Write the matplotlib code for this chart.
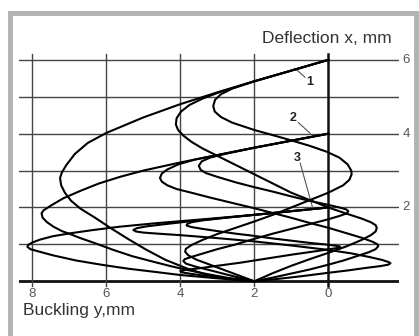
import matplotlib.pyplot as plt
from matplotlib.patches import Rectangle

# curve points: buckling y (horizontal), deflection x (vertical)
# curve family 1 starts at x = 6 mm
C1A_Y = [0, 1, 2, 3, 4, 5, 6, 6.5, 6.85, 7.08, 7.2, 7.25, 7.22, 7.12, 6.95, 6.7, 6.3,
         5.88, 5.4, 4.91, 4.4, 3.83, 3.3, 2.7, 2.0]
C1A_X = [6, 5.71, 5.42, 5.12, 4.8, 4.44, 4.02, 3.75, 3.45, 3.15, 2.95, 2.8, 2.6, 2.4, 2.18,
         1.97, 1.72, 1.44, 1.14, 0.85, 0.58, 0.35, 0.18, 0.07, 0]
C1B_Y = [0, 1, 2, 2.9, 3.4, 3.75, 3.98, 4.1, 4.12, 4.06, 3.92, 3.7, 3.4, 3.0, 2.5, 2.0,
         1.5, 1.0, 0.5, 0, -0.5, -0.9, -1.15, -1.28, -1.31, -1.28, -1.15, -0.9, -0.5, 0,
         0.5, 1.0, 1.5, 2.0]
C1B_X = [6, 5.71, 5.42, 5.14, 4.95, 4.78, 4.6, 4.42, 4.25, 4.1, 3.95, 3.78, 3.6, 3.4, 3.15,
         2.9, 2.65, 2.4, 2.2, 2.0, 1.83, 1.7, 1.6, 1.52, 1.45, 1.35, 1.25, 1.12, 0.95, 0.77,
         0.6, 0.42, 0.22, 0]
C1C_Y = [0, 1, 2, 2.6, 2.9, 3.06, 3.11, 3.07, 2.9, 2.6, 2.0, 1.5, 1.04, 0.5, 0.04, -0.3,
         -0.52, -0.62, -0.63, -0.57, -0.4, 0, 0.5, 1.0, 1.5, 2.0, 2.5, 3.0, 3.4, 3.7, 3.85,
         3.87, 3.78, 3.55, 3.2, 2.8, 2.4, 2.0]
C1C_X = [6, 5.71, 5.42, 5.22, 5.07, 4.92, 4.75, 4.6, 4.45, 4.3, 4.1, 3.96, 3.83, 3.67, 3.51,
         3.35, 3.17, 3.0, 2.9, 2.75, 2.6, 2.4, 2.2, 2.0, 1.8, 1.62, 1.45, 1.28, 1.12, 0.98,
         0.88, 0.8, 0.7, 0.58, 0.45, 0.3, 0.15, 0]

# curve family 2 starts at x = 4 mm
C2A_Y = [0, 1, 2, 3, 4, 5, 5.63, 6.2, 6.7, 7.16, 7.5, 7.7, 7.75, 7.72, 7.6, 7.43, 7.2,
         6.98, 6.7, 6.3, 5.81, 5.3, 4.73, 4.3, 3.83, 3.3, 2.7, 2.0]
C2A_X = [4, 3.81, 3.62, 3.42, 3.22, 3.0, 2.83, 2.65, 2.45, 2.25, 2.05, 1.92, 1.84, 1.72,
         1.6, 1.48, 1.36, 1.28, 1.17, 1.03, 0.85, 0.68, 0.53, 0.42, 0.31, 0.2, 0.09, 0]
C2B_Y = [0, 1, 2, 3, 3.6, 4.05, 4.35, 4.5, 4.55, 4.5, 4.35, 4.1, 3.7, 3.2, 2.5, 2.0, 1.5,
         1.0, 0.5, 0, -0.5, -0.9, -1.2, -1.33, -1.35, -1.28, -1.1, -0.8, -0.4, 0, 0.5, 1.0,
         1.5, 2.0]
C2B_X = [4, 3.81, 3.62, 3.42, 3.3, 3.17, 3.03, 2.92, 2.8, 2.7, 2.6, 2.5, 2.4, 2.27, 2.1,
         1.98, 1.85, 1.72, 1.58, 1.45, 1.3, 1.18, 1.07, 1.0, 0.95, 0.87, 0.79, 0.69, 0.56,
         0.45, 0.32, 0.21, 0.1, 0]
C2C_Y = [0, 1, 2, 2.8, 3.2, 3.42, 3.5, 3.45, 3.3, 3.0, 2.5, 2.0, 1.5, 1.0, 0.5, 0, -0.3,
         -0.48, -0.54, -0.5, -0.3, 0, 0.5, 1.0, 1.5, 2.0, 2.5, 3.0, 3.4, 3.7, 3.88, 3.92,
         3.85, 3.6, 3.2, 2.7, 2.0]
C2C_X = [4, 3.81, 3.62, 3.45, 3.35, 3.25, 3.13, 3.02, 2.93, 2.83, 2.68, 2.55, 2.43, 2.3,
         2.18, 2.07, 2.0, 1.95, 1.9, 1.84, 1.77, 1.68, 1.55, 1.42, 1.29, 1.15, 1.0, 0.87,
         0.75, 0.66, 0.6, 0.55, 0.48, 0.4, 0.3, 0.17, 0]

# curve family 3 starts at x = 2 mm
C3A_Y = [0, 1, 1.9, 2.8, 3.74, 4.7, 5.63, 6.35, 6.98, 7.45, 7.79, 8.0, 8.12, 8.13, 8.05,
         7.8, 7.43, 6.8, 6.08, 5.4, 4.73, 4.0, 3.0, 2.0]
C3A_X = [2, 1.9, 1.81, 1.73, 1.65, 1.57, 1.48, 1.39, 1.3, 1.22, 1.13, 1.05, 0.98, 0.93,
         0.87, 0.8, 0.7, 0.56, 0.44, 0.34, 0.26, 0.17, 0.08, 0]
C3B_Y = [0, 1, 1.9, 2.8, 3.7, 4.4, 4.9, 5.17, 5.27, 5.2, 5.0, 4.6, 4.0, 3.0, 2.0, 1.0, 0,
         -0.6, -1.1, -1.45, -1.63, -1.68, -1.62, -1.4, -1.0, -0.5, 0, 0.7, 1.4, 2.0]
C3B_X = [2, 1.9, 1.81, 1.72, 1.63, 1.55, 1.49, 1.44, 1.39, 1.35, 1.32, 1.29, 1.25, 1.17,
         1.08, 0.97, 0.85, 0.76, 0.66, 0.58, 0.52, 0.49, 0.45, 0.41, 0.36, 0.29, 0.23,
         0.14, 0.06, 0]
C3C_Y = [0, 1, 1.9, 2.8, 3.4, 3.7, 3.82, 3.83, 3.7, 3.4, 3.0, 2.5, 2.0, 1.5, 1.0, 0.5, 0,
         -0.22, -0.32, -0.3, -0.1, 0.3, 1.0, 1.7, 2.4, 3.0, 3.5, 3.85, 4.0, 3.95, 3.7, 3.2,
         2.6, 2.0]
C3C_X = [2, 1.9, 1.81, 1.72, 1.65, 1.6, 1.55, 1.51, 1.47, 1.42, 1.36, 1.29, 1.23, 1.16,
         1.1, 1.04, 0.99, 0.96, 0.94, 0.91, 0.88, 0.82, 0.72, 0.61, 0.5, 0.42, 0.35, 0.31,
         0.28, 0.24, 0.2, 0.13, 0.06, 0]

CURVES = [
    (C1A_Y, C1A_X), (C1B_Y, C1B_X), (C1C_Y, C1C_X),
    (C2A_Y, C2A_X), (C2B_Y, C2B_X), (C2C_Y, C2C_X),
    (C3A_Y, C3A_X), (C3B_Y, C3B_X), (C3C_Y, C3C_X),
]

BUCKLING_TICKS = [8, 6, 4, 2, 0]
DEFLECTION_GRID = [1, 2, 3, 4, 5, 6]
DEFLECTION_LABELS = [6, 4, 2]

# curve labels: (text, label position, leader start, leader end)
CURVE_LABELS = [
    ("1", (0.49, 5.41), (0.63, 5.53), (0.9, 5.77)),
    ("2", (0.95, 4.42), (0.81, 4.3), (0.49, 4.01)),
    ("3", (0.83, 3.33), (0.76, 3.2), (0.42, 1.98)),
]

X_MIN, X_MAX = 8.35, -1.92
Y_MIN, Y_MAX = -0.25, 6.2


def main():
    plt.rcParams["font.family"] = ["Liberation Sans", "DejaVu Sans"]
    fig = plt.figure(figsize=(4.19, 3.36), dpi=100)
    ax = fig.add_axes([19.35 / 419, 45.5 / 336, 380 / 419, 238 / 336])
    ax.set_xlim(X_MIN, X_MAX)
    ax.set_ylim(Y_MIN, Y_MAX)
    ax.axis("off")

    # grey frame round the picture
    fig.patches.append(Rectangle((9.5 / 419, -0.05), 406 / 419, 1.05 - 12.5 / 336,
                                 transform=fig.transFigure, fill=False,
                                 edgecolor="#b4b4b4", linewidth=3.6))

    # grid
    for v in DEFLECTION_GRID:
        ax.plot([X_MIN, X_MAX], [v, v], color="#444444", lw=1.0, zorder=1)
    ax.plot([X_MIN, X_MAX], [0, 0], color="#111111", lw=2.0, zorder=1)
    for b in BUCKLING_TICKS:
        lw = 1.8 if b == 0 else 1.0
        col = "#111111" if b == 0 else "#444444"
        ax.plot([b, b], [-0.14, 6.17], color=col, lw=lw, zorder=1)
        ax.text(b, -0.34, str(b), ha="center", va="center", fontsize=9.5,
                color="#555555")
    for v in DEFLECTION_LABELS:
        ax.text(-2.1, v, str(v), ha="center", va="center", fontsize=9.5,
                color="#555555", clip_on=False)

    for ys, xs in CURVES:
        ax.plot(ys, xs, color="black", lw=1.5, zorder=3, solid_joinstyle="round")

    for txt, pos, p0, p1 in CURVE_LABELS:
        ax.text(pos[0], pos[1], txt, ha="center", va="center", fontsize=9,
                fontweight="bold", color="#222222")
        ax.plot([p0[0], p1[0]], [p0[1], p1[1]], color="#555555", lw=0.8, zorder=2)

    ax.text(-1.72, 6.57, "Deflection x, mm", ha="right", va="center",
            fontsize=12.5, color="#333333", clip_on=False)
    ax.text(8.25, -0.78, "Buckling y,mm", ha="left", va="center",
            fontsize=12.5, color="#333333", clip_on=False)

    fig.savefig("out.png", dpi=100)


if __name__ == "__main__":
    main()
